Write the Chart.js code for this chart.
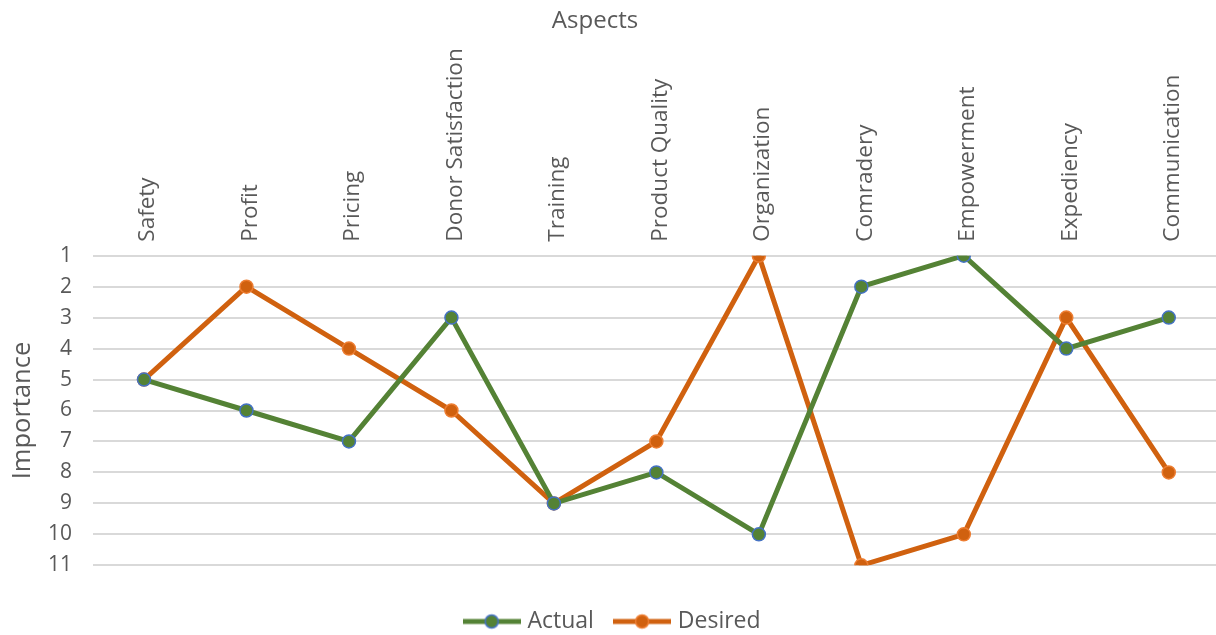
<!DOCTYPE html>
<html>
<head>
<meta charset="utf-8">
<script src="https://cdn.jsdelivr.net/npm/chart.js@4.4.1/dist/chart.umd.min.js"></script>
<style>
  html, body { margin: 0; padding: 0; background: #ffffff; overflow: hidden; }
  canvas { display: block; }
</style>
</head>
<body>
<canvas id="c" width="1228" height="635"></canvas>
<script>
const categories = ["Safety", "Profit", "Pricing", "Donor Satisfaction", "Training", "Product Quality", "Organization", "Comradery", "Empowerment", "Expediency", "Communication"];
const actualValues = [5, 6, 7, 3, 9, 8, 10, 2, 1, 4, 3];
const desiredValues = [5, 2, 4, 6, 9, 7, 1, 11, 10, 3, 8];
const seriesNames = ["Actual", "Desired"];
const chartTitle = "Aspects";
const yAxisTitle = "Importance";

const GREEN = '#548235';
const GREEN_BORDER = '#4472C4';
const ORANGE = '#D0610F';
const ORANGE_BORDER = '#ED7D31';
const FONT = "'Open Sans', sans-serif";
const TEXT = '#595959';

function legendIcon(line, fill, border) {
  const c = document.createElement('canvas');
  c.width = 58; c.height = 18;
  const g = c.getContext('2d');
  g.strokeStyle = line; g.lineWidth = 5;
  g.beginPath(); g.moveTo(0, 9); g.lineTo(58, 9); g.stroke();
  g.beginPath(); g.arc(29, 9, 6.5, 0, Math.PI * 2);
  g.fillStyle = fill; g.fill();
  g.lineWidth = 1.5; g.strokeStyle = border; g.stroke();
  return c;
}
const icons = [legendIcon(GREEN, GREEN, GREEN_BORDER), legendIcon(ORANGE, ORANGE, ORANGE_BORDER)];

const adjustBoxes = {
  id: 'adjustBoxes',
  afterLayout(chart) {
    const lg = chart.legend;
    if (lg) { lg.top += 8; lg.bottom += 8; }
    const tb = chart.titleBlock;
    if (tb) { tb.left -= 19; tb.right -= 19; }
  }
};

new Chart(document.getElementById('c'), {
  type: 'line',
  data: {
    labels: categories,
    datasets: [
      {
        label: seriesNames[0], data: actualValues,
        borderColor: GREEN, backgroundColor: GREEN, borderWidth: 5,
        pointRadius: 6.5, pointBorderWidth: 1.5, pointBackgroundColor: GREEN, pointBorderColor: GREEN_BORDER,
        tension: 0, fill: false
      },
      {
        label: seriesNames[1], data: desiredValues,
        borderColor: ORANGE, backgroundColor: ORANGE, borderWidth: 5,
        pointRadius: 6.5, pointBorderWidth: 1.5, pointBackgroundColor: ORANGE, pointBorderColor: ORANGE_BORDER,
        tension: 0, fill: false
      }
    ]
  },
  plugins: [adjustBoxes],
  options: {
    responsive: false,
    animation: false,
    layout: { padding: 0 },
    plugins: {
      title: {
        display: true, text: chartTitle, color: TEXT,
        font: { family: FONT, size: 24, weight: 'normal', lineHeight: 1.2 },
        padding: { top: 7, bottom: 0 }
      },
      legend: {
        display: true, position: 'bottom',
        labels: {
          usePointStyle: true, pointStyleWidth: 48.5, boxHeight: 18,
          color: TEXT, padding: 24,
          font: { family: FONT, size: 23 },
          generateLabels(chart) {
            const items = Chart.defaults.plugins.legend.labels.generateLabels(chart);
            items.forEach((it, i) => { it.pointStyle = icons[i]; });
            return items;
          }
        }
      },
      tooltip: { enabled: false }
    },
    scales: {
      x: {
        type: 'category', position: 'top', offset: true,
        grid: { display: false }, border: { display: false },
        ticks: {
          color: TEXT, font: { family: FONT, size: 22.5 },
          minRotation: 90, maxRotation: 90, autoSkip: false, padding: 6, labelOffset: 31
        },
        afterFit(s) { s.height = 255.7 - 35.8; s.paddingLeft = 0; s.paddingRight = 0; }
      },
      x2: {
        type: 'category', position: 'bottom', display: true,
        grid: { display: false }, border: { display: false },
        ticks: { display: false },
        afterFit(s) { s.height = 12.7; s.paddingLeft = 0; s.paddingRight = 0; }
      },
      y: {
        reverse: true, min: 1, max: 11,
        grid: { color: '#D9D9D9', lineWidth: 2, drawTicks: false },
        border: { display: false },
        ticks: { stepSize: 1, color: TEXT, font: { family: FONT, size: 21 }, padding: 20.75 },
        title: {
          display: true, text: yAxisTitle, color: TEXT,
          font: { family: FONT, size: 25.5 }, padding: { top: 7, bottom: 0 }
        },
        afterFit(s) { s.width = 92.75; }
      }
    }
  }
});
</script>
</body>
</html>
